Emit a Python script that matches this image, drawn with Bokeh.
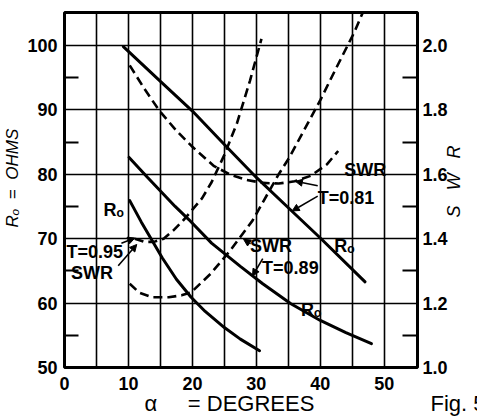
import math
from bokeh.plotting import figure
from bokeh.models import (Range1d, LinearAxis, FixedTicker, Label, Arrow, Title,
                          NormalHead, PrintfTickFormatter)
from bokeh.embed import file_html
from bokeh.resources import INLINE

# ---------------- data ----------------
# R0 curves (left axis, ohms) vs angle (degrees)
ro_081_x = [9.2, 15, 20, 25, 30, 35, 40, 47]
ro_081_y = [99.8, 94.4, 89.8, 84.6, 79.5, 74.8, 70.1, 63.3]

ro_089_x = [10.1, 13, 17.3, 19.4, 23, 27.5, 31, 35.4, 40, 44, 48]
ro_089_y = [82.6, 79.5, 75.0, 73.0, 69.3, 65.7, 63.0, 59.9, 57.3, 55.4, 53.7]

ro_095_x = [10.2, 12, 13.7, 15.3, 17.5, 19.8, 22, 25, 27.5, 30.5]
ro_095_y = [75.9, 72.6, 69.7, 67.0, 63.7, 60.9, 58.7, 56.2, 54.4, 52.6]

# SWR curves (right axis)
swr_081_x = [10.2, 12.5, 14.8, 17.5, 20, 23.4, 26, 28.5, 31, 33.5, 36, 38.5, 41, 42.8]
swr_081_y = [1.938, 1.865, 1.798, 1.735, 1.685, 1.625, 1.598, 1.582, 1.573, 1.571,
             1.578, 1.595, 1.63, 1.672]

swr_089_x = [10.2, 11.7, 13.7, 16.3, 18.3, 19.8, 22.9, 25.9, 29.4, 33.5, 35.1, 38.1,
             40.0, 42.5, 45.3, 46.6]
swr_089_y = [1.26, 1.232, 1.218, 1.218, 1.224, 1.233, 1.292, 1.363, 1.456, 1.60, 1.65,
             1.76, 1.83, 1.93, 2.04, 2.10]

swr_095_x = [11.0, 12.5, 14.0, 15.5, 17.0, 18.5, 20.0, 21.5, 23.0, 25.0, 27.0, 29.0, 30.8]
swr_095_y = [1.40, 1.39, 1.39, 1.40, 1.425, 1.455, 1.49, 1.525, 1.575, 1.66, 1.76, 1.89, 2.02]

x_ticks = [0, 10, 20, 30, 40, 50]
x_grid = [5, 10, 15, 20, 25, 30, 35, 40, 45, 50]
ro_ticks = [50, 60, 70, 80, 90, 100]
ro_minor = [55, 65, 75, 85, 95]
swr_ticks = [1.0, 1.2, 1.4, 1.6, 1.8, 2.0]
swr_minor = [1.1, 1.3, 1.5, 1.7, 1.9]

NB = "\u00a0"
left_title = NB * 5 + "Rₒ" + NB * 2 + "=" + NB * 2 + "OHMS"
right_title = "S" + NB * 3 + "W" + NB * 3 + "R"
bottom_title = "α" + NB * 5 + "= DEGREES" + NB * 19 + "Fig. 5"

# ---------------- figure ----------------
TICK_FONT = "Liberation Sans"
ANN_FONT = "Liberation Sans"

p = figure(width=477, height=417, x_range=Range1d(0, 55.2), y_range=Range1d(50, 105.1),
           output_backend="svg", toolbar_location=None,
           min_border_left=60, min_border_right=55, min_border_top=12, min_border_bottom=50)
p.extra_y_ranges = {"swr": Range1d(1.0, 2.102)}

p.outline_line_color = "black"
p.outline_line_width = 3
p.background_fill_color = "white"
p.border_fill_color = "white"

p.xgrid.ticker = FixedTicker(ticks=x_grid)
p.ygrid.ticker = FixedTicker(ticks=ro_ticks[1:])
for g in (p.xgrid, p.ygrid):
    g.grid_line_color = "black"
    g.grid_line_width = 1.6
    g.grid_line_alpha = 1.0

def style_axis(ax, standoff):
    ax.axis_line_color = None
    ax.major_tick_in = 0
    ax.major_tick_out = 0
    ax.minor_tick_out = 0
    ax.minor_tick_line_color = "black"
    ax.minor_tick_line_width = 2
    ax.major_label_text_font = TICK_FONT
    ax.major_label_text_font_style = "bold"
    ax.major_label_text_font_size = "18px"
    ax.major_label_text_color = "black"
    ax.major_label_standoff = standoff

xa = p.xaxis[0]
xa.ticker = FixedTicker(ticks=x_ticks)
style_axis(xa, 9)
xa.minor_tick_in = 0

ya = p.yaxis[0]
ya.ticker = FixedTicker(ticks=ro_ticks, minor_ticks=ro_minor)
style_axis(ya, 7)
ya.minor_tick_in = 14
ya.axis_label = left_title
ya.axis_label_standoff = 2
ya.axis_label_text_font = ANN_FONT
ya.axis_label_text_font_size = "17px"
ya.axis_label_text_font_style = "italic"
ya.axis_label_text_color = "black"

ra = LinearAxis(y_range_name="swr")
ra.ticker = FixedTicker(ticks=swr_ticks, minor_ticks=swr_minor)
ra.formatter = PrintfTickFormatter(format="%.1f")
style_axis(ra, 5)
ra.minor_tick_in = 15
p.add_layout(ra, "right")

# right-hand title "S W R", reading upwards, as the single label of an outer axis
ra2 = LinearAxis(ticker=FixedTicker(ticks=[73.3]), major_label_overrides={73.3: right_title})
ra2.axis_line_color = None
ra2.major_tick_in = 0
ra2.major_tick_out = 0
ra2.minor_tick_in = 0
ra2.minor_tick_out = 0
ra2.major_label_orientation = math.pi / 2
ra2.major_label_standoff = 4
ra2.major_label_text_font = ANN_FONT
ra2.major_label_text_font_size = "18px"
ra2.major_label_text_font_style = "italic"
ra2.major_label_text_color = "black"
p.add_layout(ra2, "right")

# bottom title (cut by the lower edge, as in the scan)
p.add_layout(Title(text=bottom_title, align="left", offset=80, standoff=-7,
                   vertical_align="bottom", text_font=ANN_FONT, text_font_size="22px",
                   text_font_style="normal", text_color="black"), "below")

# ---------------- curves ----------------
for xs, ys in ((ro_081_x, ro_081_y), (ro_089_x, ro_089_y), (ro_095_x, ro_095_y)):
    p.line(xs, ys, line_color="black", line_width=3, line_cap="round")

for xs, ys in ((swr_081_x, swr_081_y), (swr_089_x, swr_089_y), (swr_095_x, swr_095_y)):
    p.line(xs, ys, y_range_name="swr", line_color="black", line_width=2.6,
           line_dash="9 5")

# ---------------- annotations ----------------
def ann(x, y, text, size="18px", style="bold"):
    p.add_layout(Label(x=x, y=y, text=text, text_font=ANN_FONT, text_font_size=size,
                       text_font_style=style, text_color="black",
                       text_align="left", text_baseline="alphabetic"))

ann(43.75, 80.6, "SWR")
ann(39.6, 76.3, "T=0.81")
ann(42.2, 68.9, "Rₒ")
ann(29.0, 68.8, "SWR")
ann(30.9, 65.5, "T=0.89")
ann(37.0, 58.9, "Rₒ")
ann(6.1, 74.4, "Rₒ")
ann(0.3, 67.9, "T=0.95")
ann(1.0, 64.6, "SWR")

def arrow(x0, y0, x1, y1):
    p.add_layout(Arrow(end=NormalHead(size=7, fill_color="black", line_color="black"),
                       x_start=x0, y_start=y0, x_end=x1, y_end=y1,
                       line_color="black", line_width=1.6))

arrow(39.6, 78.2, 36.1, 78.9)
arrow(39.6, 76.6, 35.6, 74.3)
arrow(29.1, 69.2, 28.0, 69.9)
arrow(31.0, 66.9, 29.4, 64.2)
arrow(8.9, 69.3, 11.0, 70.1)
arrow(8.4, 65.8, 11.3, 69.1)

open("out.html", "w").write(file_html(p, INLINE))
